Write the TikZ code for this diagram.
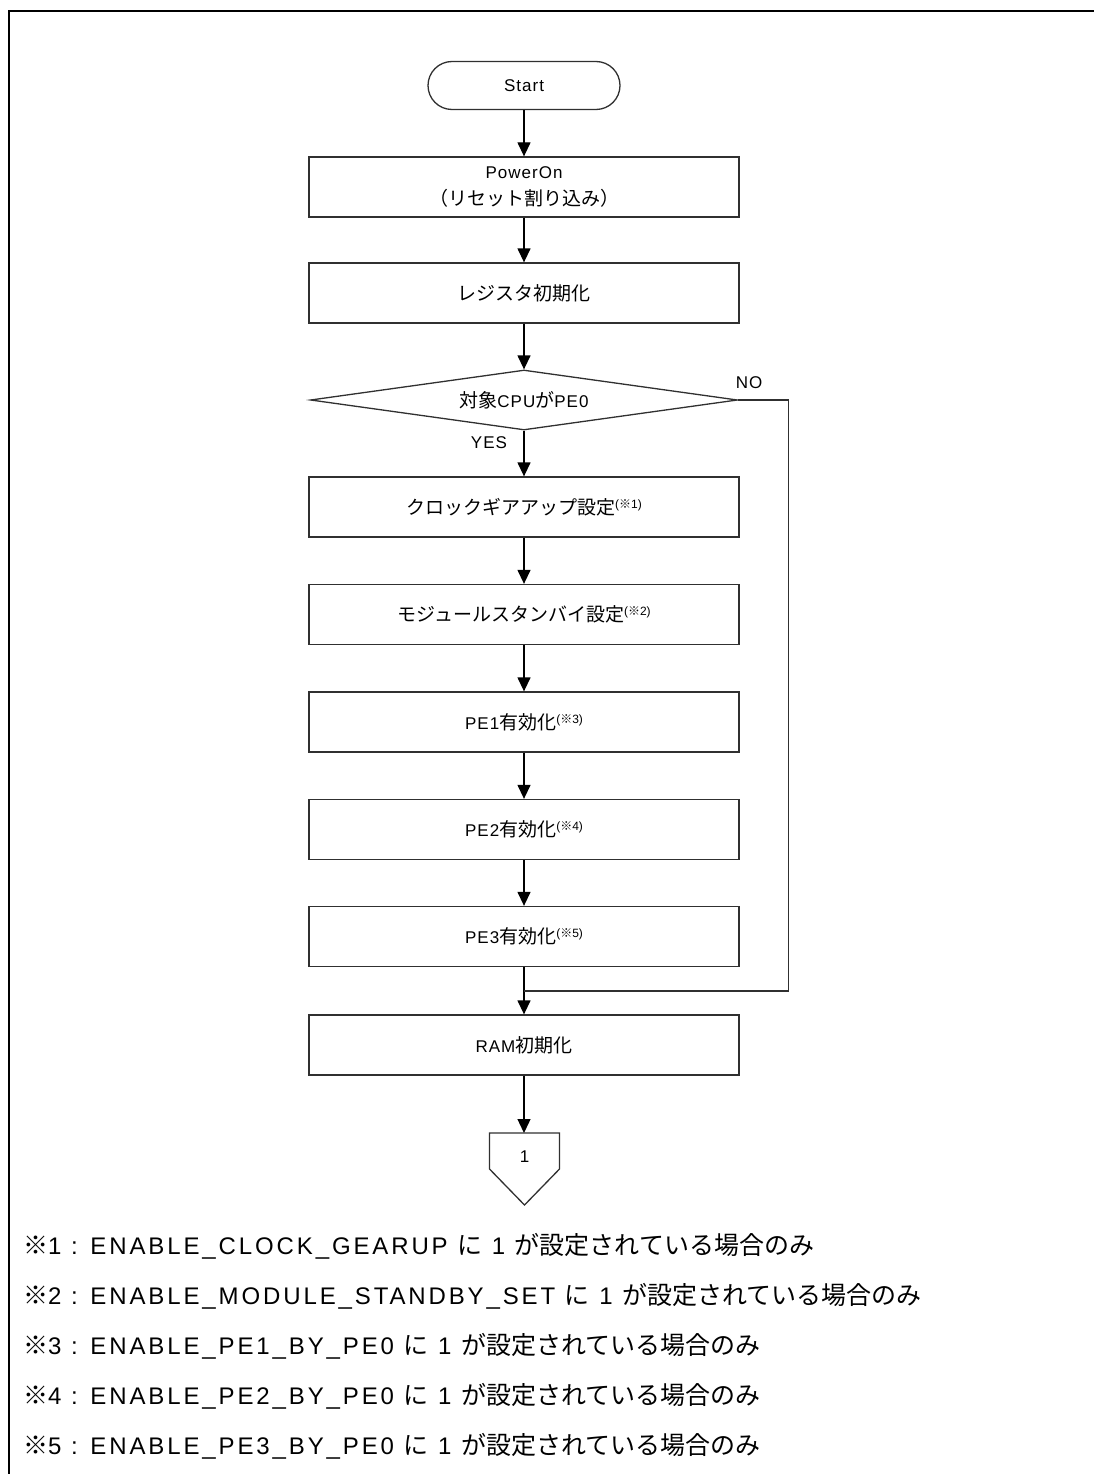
\documentclass[tikz,border=0pt]{standalone}
\usepackage{fontspec}
\setmainfont{Liberation Sans}
\newfontfamily\jpf{Noto Sans CJK JP}
\newfontfamily\boxlat[LetterSpace=6]{Liberation Sans}
\newfontfamily\fnlat[LetterSpace=12]{Liberation Sans}
\usetikzlibrary{arrows.meta,shapes.geometric}
\definecolor{linec}{HTML}{303030}
\newcommand\bj[1]{{\jpf\fontsize{19}{22}\selectfont #1}}
\newcommand\bl[1]{{\boxlat\fontsize{17}{22}\selectfont #1}}
\newcommand\nref[1]{\raisebox{6pt}{\fontsize{12}{14}\selectfont (\jpf ※\normalfont\fontsize{12}{14}\selectfont #1)}}
\newcommand\fj[1]{{\jpf\fontsize{25}{30}\selectfont #1}}
\newcommand\fl[1]{{\fnlat\fontsize{24}{30}\selectfont #1}}
\begin{document}
\begin{tikzpicture}[x=1pt,y=-1pt,
  every node/.style={inner sep=0pt, text=black},
  proc/.style={draw=linec, line width=1.3pt, minimum width=430pt, minimum height=60pt, align=center},
  term/.style={draw=linec, line width=1.3pt, minimum width=192pt, minimum height=48pt, rounded corners=24pt},
  decide/.style={draw=linec, line width=1.3pt, diamond, minimum width=427pt, minimum height=60pt, aspect=7},
  conn/.style={draw=linec, line width=1.3pt},
  arr/.style={draw=black, line width=1.3pt, -{Triangle[length=14pt,width=13pt]}},
  lbl/.style={font=\fontsize{16}{18}\selectfont},
  fn/.style={anchor=base west}
]
\useasboundingbox (0,0) rectangle (1094,1474);
% frame
\draw[line width=2.5pt] (9,1474) -- (9,11) -- (1094,11);

\node[term] (start) at (524,85.5) {\bl{Start}};
\node[proc] (pon) at (524,187) {\bl{PowerOn}\\[9pt]\bj{（リセット割り込み）}};
\node[proc] (reg) at (524,293) {\bj{レジスタ初期化}};
\node[decide] (dec) at (524,400) {\bj{対象}\bl{CPU}\bj{が}\bl{PE0}};
\node[proc] (clk) at (524,507) {\bj{クロックギアアップ設定}\nref{1}};
\node[proc] (mod) at (524,614.5) {\bj{モジュールスタンバイ設定}\nref{2}};
\node[proc] (pe1) at (524,722) {\bl{PE1}\bj{有効化}\nref{3}};
\node[proc] (pe2) at (524,829.5) {\bl{PE2}\bj{有効化}\nref{4}};
\node[proc] (pe3) at (524,936.5) {\bl{PE3}\bj{有効化}\nref{5}};
\node[proc] (ram) at (524,1045) {\bl{RAM}\bj{初期化}};

\node[lbl] (no) at (749,383) {\bl{NO}};
\node[lbl] (yes) at (489,443) {\bl{YES}};

% off-page connector
\coordinate (ctop) at (524,1133);
\draw[conn] (489.5,1133) -- (559.5,1133) -- (559.5,1169) -- (524.5,1205) -- (489.5,1169) -- cycle;
\node (con) at (524.5,1157) {\bl{1}};

% arrows
\draw[arr] (start) -- (pon);
\draw[arr] (pon) -- (reg);
\draw[arr] (reg) -- (dec);
\draw[arr] (dec) -- (clk);
\draw[arr] (clk) -- (mod);
\draw[arr] (mod) -- (pe1);
\draw[arr] (pe1) -- (pe2);
\draw[arr] (pe2) -- (pe3);
\draw[arr] (pe3) -- (ram);
\draw[arr] (ram) -- (ctop);
\coordinate (mg) at (524,991);
\draw[conn] (dec.east) -- ++(50,0) |- (mg);

% footnotes
\node[fn] (f1) at (23,1254) {\fj{※}\fl{1 : ENABLE\_CLOCK\_GEARUP }\fj{に}\fl{ 1 }\fj{が設定されている場合のみ}};
\node[fn] (f2) at (23,1304) {\fj{※}\fl{2 : ENABLE\_MODULE\_STANDBY\_SET }\fj{に}\fl{ 1 }\fj{が設定されている場合のみ}};
\node[fn] (f3) at (23,1354) {\fj{※}\fl{3 : ENABLE\_PE1\_BY\_PE0 }\fj{に}\fl{ 1 }\fj{が設定されている場合のみ}};
\node[fn] (f4) at (23,1404) {\fj{※}\fl{4 : ENABLE\_PE2\_BY\_PE0 }\fj{に}\fl{ 1 }\fj{が設定されている場合のみ}};
\node[fn] (f5) at (23,1454) {\fj{※}\fl{5 : ENABLE\_PE3\_BY\_PE0 }\fj{に}\fl{ 1 }\fj{が設定されている場合のみ}};
\end{tikzpicture}
\end{document}
